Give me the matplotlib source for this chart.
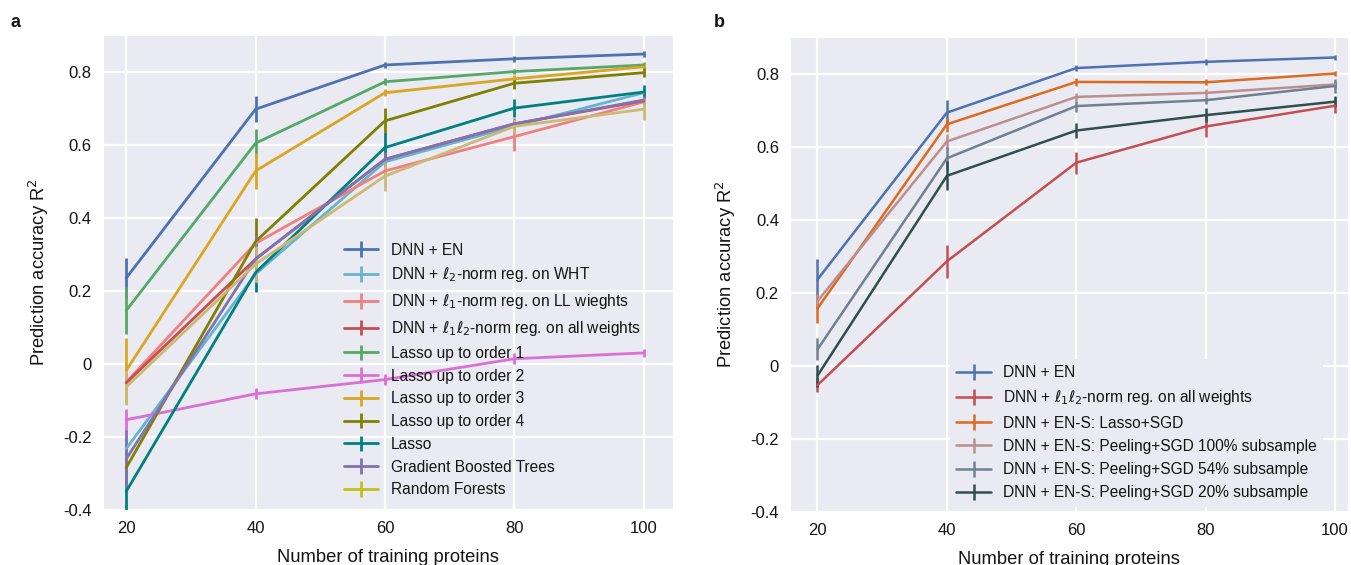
import numpy as np
import matplotlib
matplotlib.use("Agg")
import matplotlib.pyplot as plt
import seaborn as sns
from matplotlib.ticker import FuncFormatter

sns.set_style("darkgrid")
plt.rcParams['font.family'] = ['Liberation Sans', 'DejaVu Sans']
plt.rcParams['mathtext.fontset'] = 'dejavusans'
for k in ['text.color', 'axes.labelcolor', 'xtick.color', 'ytick.color']:
    plt.rcParams[k] = '0.08'

n_train = [20, 40, 60, 80, 100]

# panel a
a_labels = [
    "DNN + EN",
    r"DNN + $\ell_2$-norm reg. on WHT",
    r"DNN + $\ell_1$-norm reg. on LL wieghts",
    r"DNN + $\ell_1\ell_2$-norm reg. on all weights",
    "Lasso up to order 1",
    "Lasso up to order 2",
    "Lasso up to order 3",
    "Lasso up to order 4",
    "Lasso",
    "Gradient Boosted Trees",
    "Random Forests",
]
a_colors = ['#4C72B0', '#64B5CD', '#F08080', '#C44E52', '#55A868', '#DA70D6',
            '#DAA520', '#808000', '#008080', '#8172B2', '#CCB974']
a_legend_rf = '#C4C01A'
a_mean = [
    [0.235, 0.697, 0.818, 0.835, 0.848],
    [-0.232, 0.246, 0.553, 0.651, 0.742],
    [-0.050, 0.330, 0.528, 0.622, 0.717],
    [-0.052, 0.287, 0.560, 0.657, 0.720],
    [0.146, 0.604, 0.772, 0.800, 0.818],
    [-0.153, -0.082, -0.043, 0.014, 0.030],
    [-0.018, 0.528, 0.742, 0.780, 0.813],
    [-0.284, 0.335, 0.665, 0.768, 0.797],
    [-0.349, 0.250, 0.592, 0.700, 0.744],
    [-0.260, 0.287, 0.560, 0.657, 0.722],
    [-0.063, 0.273, 0.514, 0.650, 0.697],
]
a_err = [
    [0.055, 0.035, 0.008, 0.008, 0.008],
    [0.030, 0.030, 0.020, 0.010, 0.010],
    [0.040, 0.030, 0.020, 0.040, 0.015],
    [0.020, 0.030, 0.020, 0.010, 0.010],
    [0.065, 0.040, 0.010, 0.008, 0.008],
    [0.030, 0.015, 0.015, 0.015, 0.012],
    [0.090, 0.050, 0.010, 0.010, 0.010],
    [0.030, 0.065, 0.035, 0.015, 0.012],
    [0.060, 0.053, 0.040, 0.025, 0.020],
    [0.080, 0.065, 0.020, 0.015, 0.012],
    [0.050, 0.050, 0.040, 0.020, 0.030],
]

# panel b
b_labels = [
    "DNN + EN",
    r"DNN + $\ell_1\ell_2$-norm reg. on all weights",
    "DNN + EN-S: Lasso+SGD",
    "DNN + EN-S: Peeling+SGD 100% subsample",
    "DNN + EN-S: Peeling+SGD 54% subsample",
    "DNN + EN-S: Peeling+SGD 20% subsample",
]
b_colors = ['#4C72B0', '#C44E52', '#DD6A1F', '#BC8F8F', '#708090', '#2F4F4F']
b_mean = [
    [0.236, 0.693, 0.815, 0.832, 0.844],
    [-0.053, 0.286, 0.556, 0.655, 0.712],
    [0.157, 0.661, 0.777, 0.776, 0.800],
    [0.177, 0.614, 0.736, 0.747, 0.770],
    [0.045, 0.568, 0.711, 0.727, 0.766],
    [-0.027, 0.520, 0.644, 0.686, 0.723],
]
b_err = [
    [0.055, 0.035, 0.008, 0.008, 0.008],
    [0.020, 0.045, 0.030, 0.030, 0.020],
    [0.040, 0.020, 0.010, 0.008, 0.008],
    [0.020, 0.020, 0.010, 0.010, 0.010],
    [0.030, 0.030, 0.015, 0.010, 0.020],
    [0.030, 0.040, 0.020, 0.020, 0.015],
]

yticks = [-0.4, -0.2, 0, 0.2, 0.4, 0.6, 0.8]


def fmt(v, pos):
    if abs(v) < 1e-9:
        return "0"
    return "%.1f" % v


def style_axes(ax, xlim):
    ax.set_xlim(*xlim)
    ax.set_ylim(-0.4, 0.9)
    ax.set_xticks(n_train)
    ax.set_yticks(yticks)
    ax.yaxis.set_major_formatter(FuncFormatter(fmt))
    ax.tick_params(labelsize=12, pad=8, length=0)
    ax.grid(color='white', lw=1.6)
    ax.set_xlabel("Number of training proteins", fontsize=13.2, labelpad=9)
    ax.set_ylabel("Prediction accuracy R$^2$", fontsize=13.2, labelpad=9)


fig = plt.figure(figsize=(13.51, 5.65), dpi=100)
ax_a = fig.add_axes([0.0762, 0.0973, 0.4218, 0.8407])
ax_b = fig.add_axes([0.5848, 0.0940, 0.4130, 0.8405])

for lab, col, m, e in zip(a_labels, a_colors, a_mean, a_err):
    if lab == "Random Forests":
        ax_a.errorbar(n_train, m, yerr=e, color=col, lw=2.0, elinewidth=2.0)
        ax_a.errorbar([np.nan], [np.nan], yerr=[np.nan], color=a_legend_rf,
                      lw=2.0, elinewidth=2.0, label=lab)
    else:
        ax_a.errorbar(n_train, m, yerr=e, color=col, lw=2.0, elinewidth=2.0, label=lab)
style_axes(ax_a, (16.4, 104.5))
ax_a.legend(loc='upper left', bbox_to_anchor=(0.412, 0.576), borderaxespad=0,
            frameon=False, fontsize=11.2, handlelength=2.2, labelspacing=0.5,
            handletextpad=0.8)

for lab, col, m, e in zip(b_labels, b_colors, b_mean, b_err):
    ax_b.errorbar(n_train, m, yerr=e, color=col, lw=1.8, elinewidth=1.8, label=lab)
style_axes(ax_b, (15.76, 102))
ax_b.legend(loc='upper left', bbox_to_anchor=(0.287, 0.322), borderaxespad=0,
            frameon=True, fontsize=11.2, handlelength=2.2, labelspacing=0.53,
            handletextpad=0.8, facecolor='#EAEAF2', edgecolor='none',
            framealpha=1, fancybox=False)

fig.text(0.008, 0.96, "a", fontsize=13, fontweight='bold', va='center')
fig.text(0.528, 0.96, "b", fontsize=13, fontweight='bold', va='center')

fig.savefig("out.png", dpi=100)
